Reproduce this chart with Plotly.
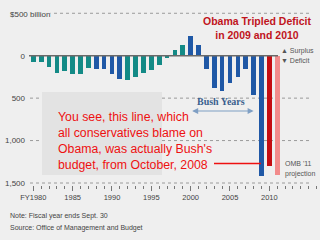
import plotly.graph_objects as go

# ---- data ----
years = list(range(1980, 2012))
balance = [-74, -79, -128, -208, -185, -212, -221, -150, -155, -153, -221, -269,
           -290, -255, -203, -164, -107, -22, 69, 126, 236, 128, -158, -378,
           -413, -318, -248, -161, -459, -1413, -1300, -1400]
bar_groups = (["teal"] * 8 + ["blue"] * 4 + ["teal"] * 8 + ["blue"] * 10
              + ["red", "pink"])
group_colors = {"teal": "#138a86", "blue": "#1f58a6", "red": "#c40d12", "pink": "#f28b8b"}
x_tick_vals = [1980, 1985, 1990, 1995, 2000, 2005, 2010]
x_tick_text = ["FY1980", "1985", "1990", "1995", "2000", "2005", "2010"]
y_tick_vals = [0, -500, -1000, -1500]
y_tick_text = ["0", "500", "1,000", "1,500"]
grid_vals = [500, -500, -1000, -1500]
bush_years = [2000, 2008]

# ---- layout geometry (pixels) ----
W, H = 320, 240
ML, MB = 30, 55
PW, PH = W - ML, H - MB
Y_TOP, Y_BOT = 656.3, -1523.5


def px(x):
    return (x - ML) / PW


def py(y):
    return (PH - y) / PH


def yval(y):
    return Y_TOP - (Y_TOP - Y_BOT) * y / PH


BG = "#efefef"
FONT = "Liberation Sans, Arial, sans-serif"

fig = go.Figure()
fig.add_trace(go.Bar(
    x=years, y=balance, width=0.6,
    marker=dict(color=[group_colors[g] for g in bar_groups], line=dict(width=0)),
    hoverinfo="skip",
))

shapes = []
for g in grid_vals:
    shapes.append(dict(type="line", xref="paper", yref="y", x0=0, x1=px(312), y0=g, y1=g,
                       line=dict(color="#9a9a9a", width=1, dash="dot"), layer="below"))
# text box
shapes.append(dict(type="rect", xref="paper", yref="paper", x0=px(42), x1=px(162),
                   y0=py(175), y1=py(92), fillcolor="#e3e3e3", line=dict(width=0),
                   layer="below"))
# zero line
shapes.append(dict(type="line", xref="paper", yref="y", x0=px(29), x1=px(278), y0=0, y1=0,
                   line=dict(color="#6a6a6a", width=1.5)))
# red pointer line
shapes.append(dict(type="line", xref="paper", yref="paper", x0=px(214), x1=px(261),
                   y0=py(163.5), y1=py(163.5), line=dict(color="#ee1111", width=1.5)))

ann = []


def text(x, y, s, size, color="#555", xanchor="left", yanchor="middle", family=FONT, **kw):
    ann.append(dict(x=px(x), y=py(y), xref="paper", yref="paper", text=s, showarrow=False,
                    xanchor=xanchor, yanchor=yanchor,
                    font=dict(size=size, color=color, family=family), **kw))


text(9, 14, "$500 billion", 8, color="#444", bgcolor=BG, borderpad=0)
text(257, 28, "<b>Obama Tripled Deficit<br>in 2009 and 2010</b>", 10.5,
     color="#c0141c", xanchor="center")
text(279, 51, "▲ Surplus", 7, color="#555")
text(279, 61, "▼ Deficit", 7, color="#555")
text(283, 163, "OMB '11", 7, color="#555")
text(283, 174, "projection", 7, color="#555")
text(56, 141, "You see, this line, which<br>all conservatives blame on<br>"
     "Obama, was actually Bush's<br>budget, from October, 2008",
     12.3, color="#ee1111", align="left")
text(221, 102, "<b>Bush Years</b>", 10, color="#3a5f8e", xanchor="center",
     family="Liberation Serif, Times New Roman, serif")
text(8, 216, "Note: Fiscal year ends Sept. 30", 7, color="#444")
text(8, 228, "Source: Office of Management and Budget", 7, color="#444")

# Bush years double arrow
ann.append(dict(x=bush_years[1], y=yval(111), xref="x", yref="y",
                ax=bush_years[0], ay=yval(111), axref="x", ayref="y",
                text="", showarrow=True, arrowhead=2, startarrowhead=2,
                arrowside="end+start", arrowsize=1, startarrowsize=1,
                arrowwidth=1.2, arrowcolor="#7f9fc4"))

fig.update_layout(
    width=W, height=H, margin=dict(l=ML, r=0, t=0, b=MB),
    paper_bgcolor=BG, plot_bgcolor=BG, showlegend=False,
    shapes=shapes, annotations=ann, bargap=0,
    font=dict(family=FONT, size=8, color="#444"),
    xaxis=dict(range=[1979.58, 2016.44], showgrid=False, zeroline=False, showline=False,
               tickmode="array", tickvals=x_tick_vals, ticktext=x_tick_text,
               ticks="outside", ticklen=5, tickcolor="#777", tickwidth=1,
               tickfont=dict(size=7.5, color="#444"),
               minor=dict(dtick=1, tick0=1980, ticks="outside", ticklen=3,
                          tickcolor="#777", tickwidth=1, showgrid=False)),
    yaxis=dict(range=[Y_BOT, Y_TOP], showgrid=False, zeroline=False, showline=False,
               tickmode="array", tickvals=y_tick_vals, ticktext=y_tick_text,
               ticks="", tickfont=dict(size=8, color="#444"), ticklabelstandoff=4),
)

fig.write_html("out.html")
